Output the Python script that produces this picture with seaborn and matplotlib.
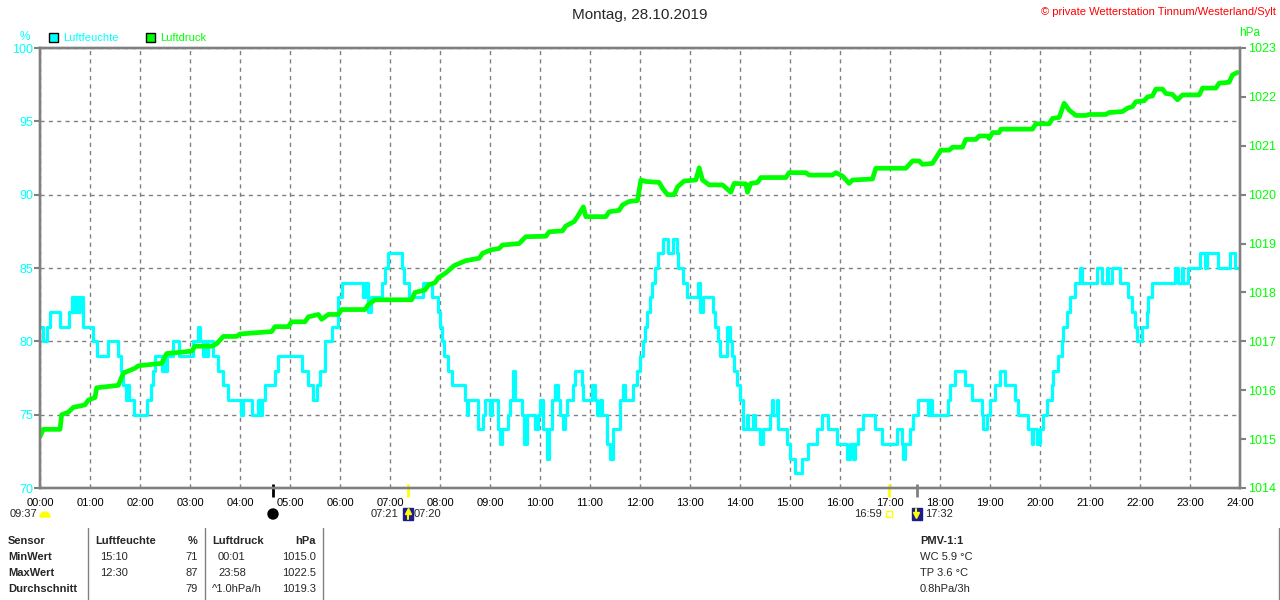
import numpy as np
import pandas as pd
import seaborn as sns
import matplotlib
matplotlib.use('Agg')
import matplotlib.pyplot as plt
from matplotlib.patches import Patch, Rectangle, Wedge, Circle

# Luftfeuchte: step breakpoints (minute of day, %)
hum_min = [0, 3, 8, 12, 24, 35, 38, 41, 43, 46, 48, 51, 52, 64, 68, 82, 94, 97, 100, 103,
           105, 107, 113, 128, 133, 136, 138, 146, 148, 150, 152, 160, 167, 184, 190, 192, 196, 198, 200, 202,
           208, 214, 220, 226, 241, 243, 254, 262, 264, 266, 270, 282, 286, 314, 322, 328, 332, 336, 342, 350,
           358, 362, 388, 390, 393, 397, 410, 414, 418, 434, 437, 443, 459, 470, 478, 480, 482, 485, 490, 494,
           510, 512, 514, 526, 532, 534, 540, 542, 550, 552, 554, 562, 564, 567, 570, 578, 581, 584, 594, 597,
           600, 604, 608, 611, 614, 618, 622, 624, 627, 630, 632, 640, 642, 650, 652, 662, 666, 668, 672, 674,
           680, 684, 687, 696, 699, 702, 712, 716, 720, 724, 726, 728, 732, 734, 738, 742, 748, 754, 760, 764,
           766, 772, 776, 790, 792, 795, 808, 810, 813, 816, 824, 828, 830, 833, 836, 840, 844, 848, 850, 856,
           858, 864, 868, 876, 878, 880, 884, 886, 896, 900, 906, 914, 922, 932, 938, 946, 956, 968, 972, 975,
           978, 982, 988, 1002, 1010, 1028, 1034, 1036, 1038, 1044, 1048, 1054, 1066, 1068, 1070, 1090, 1092, 1098, 1110, 1118,
           1130, 1132, 1136, 1140, 1146, 1152, 1158, 1170, 1174, 1186, 1190, 1192, 1196, 1200, 1204, 1208, 1214, 1216, 1222, 1226,
           1228, 1232, 1236, 1242, 1248, 1250, 1268, 1274, 1280, 1282, 1286, 1296, 1306, 1310, 1314, 1316, 1322, 1328, 1330, 1334,
           1362, 1366, 1370, 1372, 1378, 1392, 1398, 1400, 1414, 1428, 1434, 1438]
hum_val = [81, 80, 81, 82, 81, 82, 83, 82, 83, 82, 83, 82, 81, 80, 79, 80, 79, 78, 77, 76,
           77, 76, 75, 76, 77, 78, 79, 78, 79, 78, 79, 80, 79, 80, 81, 80, 79, 80, 79, 80,
           79, 78, 77, 76, 75, 76, 75, 76, 75, 76, 77, 78, 79, 78, 77, 76, 77, 78, 80, 81,
           83, 84, 83, 84, 82, 83, 84, 85, 86, 85, 84, 83, 84, 83, 82, 81, 80, 79, 78, 77,
           76, 75, 76, 74, 75, 76, 75, 76, 74, 73, 74, 75, 76, 78, 76, 75, 73, 75, 74, 75,
           76, 74, 72, 74, 76, 77, 76, 75, 74, 75, 76, 77, 78, 77, 76, 77, 76, 75, 76, 75,
           73, 72, 74, 76, 77, 76, 77, 78, 79, 80, 81, 82, 83, 84, 85, 86, 87, 86, 87, 86,
           85, 84, 83, 84, 82, 83, 82, 81, 80, 79, 81, 80, 79, 78, 77, 76, 74, 75, 74, 75,
           74, 73, 74, 75, 76, 75, 76, 74, 73, 72, 71, 72, 73, 74, 75, 74, 73, 72, 73, 72,
           73, 74, 75, 74, 73, 74, 73, 72, 73, 74, 75, 76, 75, 76, 75, 76, 77, 78, 77, 76,
           75, 74, 75, 76, 77, 78, 77, 76, 75, 74, 73, 74, 73, 74, 75, 76, 77, 78, 79, 80,
           81, 82, 83, 84, 85, 84, 85, 84, 85, 84, 85, 84, 83, 82, 81, 80, 81, 82, 83, 84,
           85, 84, 85, 84, 85, 86, 85, 86, 85, 86, 85, 85]

# Luftdruck: breakpoints (minute of day, hPa)
pres_min = [0, 4, 24, 26, 34, 40, 54, 58, 66, 68, 94, 100, 114, 118, 146, 152, 182, 186, 206, 212,
            220, 236, 240, 278, 282, 298, 302, 318, 322, 334, 338, 346, 358, 362, 390, 394, 398, 402, 446, 450,
            462, 466, 474, 478, 487, 497, 511, 527, 531, 541, 551, 555, 575, 583, 607, 611, 627, 631, 641, 645,
            652, 655, 679, 683, 695, 699, 707, 717, 721, 727, 743, 747, 753, 761, 765, 773, 787, 791, 795, 803,
            819, 829, 833, 847, 849, 853, 861, 865, 895, 899, 919, 923, 951, 955, 963, 971, 975, 999, 1003, 1039,
            1047, 1055, 1059, 1071, 1075, 1081, 1091, 1095, 1107, 1111, 1123, 1127, 1137, 1139, 1143, 1151, 1153, 1191, 1195, 1211,
            1215, 1223, 1229, 1235, 1243, 1255, 1259, 1279, 1283, 1299, 1305, 1311, 1315, 1325, 1329, 1335, 1339, 1347, 1351, 1359,
            1365, 1371, 1391, 1395, 1411, 1415, 1427, 1431, 1437]
pres_val = [1015.05, 1015.2, 1015.2, 1015.5, 1015.55, 1015.65, 1015.7, 1015.8, 1015.85, 1016.05, 1016.1, 1016.35, 1016.45, 1016.5, 1016.55, 1016.75, 1016.8, 1016.9, 1016.9, 1016.95,
            1017.1, 1017.1, 1017.15, 1017.2, 1017.3, 1017.3, 1017.4, 1017.4, 1017.5, 1017.55, 1017.45, 1017.55, 1017.55, 1017.65, 1017.65, 1017.75, 1017.8, 1017.85, 1017.85, 1018.0,
            1018.05, 1018.15, 1018.2, 1018.3, 1018.4, 1018.55, 1018.65, 1018.7, 1018.8, 1018.87, 1018.9, 1018.97, 1019.0, 1019.14, 1019.15, 1019.24, 1019.26, 1019.36, 1019.45, 1019.55,
            1019.75, 1019.55, 1019.55, 1019.65, 1019.68, 1019.79, 1019.86, 1019.88, 1020.3, 1020.27, 1020.25, 1020.13, 1020.0, 1020.0, 1020.16, 1020.28, 1020.3, 1020.55, 1020.3, 1020.2,
            1020.2, 1020.05, 1020.23, 1020.22, 1020.05, 1020.23, 1020.25, 1020.35, 1020.35, 1020.45, 1020.45, 1020.4, 1020.4, 1020.45, 1020.38, 1020.23, 1020.3, 1020.32, 1020.54, 1020.54,
            1020.69, 1020.69, 1020.62, 1020.64, 1020.75, 1020.91, 1020.91, 1020.97, 1020.97, 1021.13, 1021.13, 1021.2, 1021.2, 1021.15, 1021.27, 1021.27, 1021.34, 1021.34, 1021.45, 1021.45,
            1021.56, 1021.58, 1021.87, 1021.73, 1021.62, 1021.62, 1021.64, 1021.64, 1021.68, 1021.7, 1021.77, 1021.8, 1021.9, 1021.92, 1022.0, 1022.02, 1022.16, 1022.16, 1022.07, 1022.05,
            1021.94, 1022.04, 1022.04, 1022.18, 1022.18, 1022.28, 1022.3, 1022.45, 1022.5]

hour_labels = ['%02d:00' % h for h in range(25)]
hum_ticks = [70, 75, 80, 85, 90, 95, 100]
pres_ticks = list(range(1014, 1024))

# sun / moon events (label, hour, tick colour)
event_labels = ['04:40', '07:21', '16:59', '17:32']
event_hours = [4 + 40 / 60, 7 + 21 / 60, 16 + 59 / 60, 17 + 32 / 60]
event_colors = ['black', '#ffff00', '#ffff00', '#808080']

# stats table
table_header = ['Sensor', 'Luftfeuchte', '%', 'Luftdruck', 'hPa']
row_names = ['MinWert', 'MaxWert', 'Durchschnitt']
hum_times = ['15:10', '12:30', '']
hum_stats = ['71', '87', '79']
pres_times = ['00:01', '23:58', '^1.0hPa/h']
pres_stats = ['1015.0', '1022.5', '1019.3']
pmv_lines = ['WC 5.9 °C', 'TP 3.6 °C', '0.8hPa/3h']

CYAN = '#00ffff'
GREEN = '#00ff00'
GRAY = '#808080'

df_hum = pd.DataFrame({'hour': np.array(hum_min) / 60, 'value': hum_val})
df_pres = pd.DataFrame({'hour': np.array(pres_min) / 60, 'value': pres_val})

sns.set_style('white')
plt.rcParams['font.family'] = ['Liberation Sans', 'DejaVu Sans']

fig = plt.figure(figsize=(12.8, 6), dpi=100)
fig.patch.set_facecolor('white')
ax = fig.add_axes([40 / 1280, 112 / 600, 1200 / 1280, 440 / 600])
ax2 = ax.twinx()

sns.lineplot(data=df_hum, x='hour', y='value', ax=ax, color=CYAN, lw=2.3,
             drawstyle='steps-post', estimator=None, sort=False)
sns.lineplot(data=df_pres, x='hour', y='value', ax=ax2, color=GREEN, lw=3.4,
             estimator=None, sort=False)

ax.set_xlim(0, 24)
ax.set_ylim(70, 100)
ax2.set_ylim(1014, 1023)
ax.set_xticks(range(25))
ax.set_xticklabels(hour_labels)
ax.set_yticks(hum_ticks)
ax2.set_yticks(pres_ticks)
ax.set_xlabel('')
ax.set_ylabel('')
ax2.set_ylabel('')

ax.grid(True, color=GRAY, linestyle=(0, (3, 3)), linewidth=1)
for a in (ax, ax2):
    for s in a.spines.values():
        s.set_color(GRAY)
        s.set_linewidth(1.7)
ax.tick_params(axis='x', length=0, pad=7, labelsize=8, labelcolor='black')
ax.tick_params(axis='y', length=4, width=1.5, color=GRAY, labelcolor=CYAN, labelsize=9, pad=1)
ax2.tick_params(axis='y', length=4, width=1.5, color=GRAY, labelcolor=GREEN, labelsize=9, pad=2)

# event markers on the time axis
ax.vlines(event_hours, -0.02, 0.01, colors=event_colors, lw=2,
          transform=ax.get_xaxis_transform(), clip_on=False)

# overlay in pixel coordinates for annotations
ov = fig.add_axes([0, 0, 1, 1], zorder=-1)
ov.set_xlim(0, 1280)
ov.set_ylim(600, 0)
ov.axis('off')

fig.text(0.5, 1 - 15 / 600, 'Montag, 28.10.2019', ha='center', va='center', fontsize=11)
fig.text(1276 / 1280, 1 - 12 / 600, '© private Wetterstation Tinnum/Westerland/Sylt',
         ha='right', va='center', fontsize=8, color='red')
fig.text(25 / 1280, 1 - 37 / 600, '%', ha='center', va='center', fontsize=8.5, color=CYAN)
fig.text(1250 / 1280, 1 - 33 / 600, 'hPa', ha='center', va='center', fontsize=8.5, color=GREEN)

handles = [Patch(facecolor=CYAN, edgecolor='black', lw=1), Patch(facecolor=GREEN, edgecolor='black', lw=1)]
fig.legend(handles, ['Luftfeuchte', 'Luftdruck'], loc='center left',
           bbox_to_anchor=(49 / 1280, 1 - 38 / 600), ncol=2, frameon=False,
           fontsize=8, labelcolor=[CYAN, GREEN], handlelength=0.85, handleheight=0.85,
           handletextpad=0.45, columnspacing=2.4, borderpad=0, borderaxespad=0)

# second row under the time axis
sub_y = 514
ov.text(37, sub_y, '09:37', ha='right', va='center', fontsize=8)
ov.add_patch(Wedge((45, sub_y + 3), 5, 180, 360, color='#ffff00'))
ov.add_patch(Circle((273, sub_y), 5, color='black'))
ov.text(398, sub_y, event_labels[1], ha='right', va='center', fontsize=8)
ov.add_patch(Rectangle((403, sub_y - 6), 10, 12, color='#1c1c8c'))
ov.plot([408, 408], [sub_y + 5, sub_y - 2], color='#ffff00', lw=1.5)
ov.plot([408], [sub_y - 3], marker='^', color='#ffff00', ms=4)
ov.text(414, sub_y, '07:20', ha='left', va='center', fontsize=8)
ov.text(882, sub_y, event_labels[2], ha='right', va='center', fontsize=8)
ov.add_patch(Rectangle((886, sub_y - 3), 6, 6, fill=False, edgecolor='#ffff00', lw=1))
ov.add_patch(Rectangle((912, sub_y - 6), 10, 12, color='#1c1c8c'))
ov.plot([916, 916], [sub_y - 5, sub_y + 1], color='#ffff00', lw=1.5)
ov.plot([916], [sub_y + 1], marker='v', color='#ffff00', ms=4)
ov.text(925, sub_y, event_labels[3], ha='left', va='center', fontsize=8)

# table
row_y = [541, 557, 573, 589]
for xs in (88, 205, 323):
    ov.plot([xs, xs], [528, 600], color=GRAY, lw=1)
ov.plot([1279, 1279], [528, 600], color=GRAY, lw=1)
hdr_x = [8, 95, 198, 212, 316]
hdr_ha = ['left', 'left', 'right', 'left', 'right']
for s, x, ha in zip(table_header, hdr_x, hdr_ha):
    ov.text(x, row_y[0], s, ha=ha, va='center', fontsize=8, fontweight='bold')
for i, name in enumerate(row_names):
    y = row_y[i + 1]
    ov.text(8, y, name, ha='left', va='center', fontsize=8, fontweight='bold')
    ov.text(100, y, hum_times[i], ha='left', va='center', fontsize=8)
    ov.text(198, y, hum_stats[i], ha='right', va='center', fontsize=8)
    px = 212 if pres_times[i].startswith('^') else 218
    ov.text(px, y, pres_times[i], ha='left', va='center', fontsize=8)
    ov.text(316, y, pres_stats[i], ha='right', va='center', fontsize=8)
ov.text(920, row_y[0], 'PMV-1:1', ha='left', va='center', fontsize=8, fontweight='bold')
for y, s in zip(row_y[1:], pmv_lines):
    ov.text(920, y, s, ha='left', va='center', fontsize=8)

fig.savefig('out.png', dpi=100, facecolor='white')
